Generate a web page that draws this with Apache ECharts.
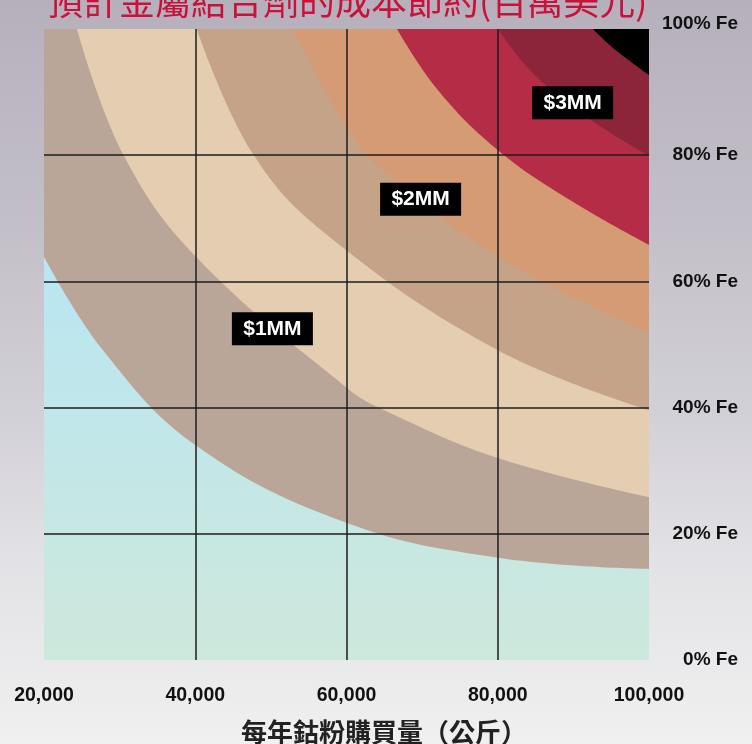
<!DOCTYPE html>
<html>
<head>
<meta charset="utf-8">
<script src="https://cdn.jsdelivr.net/npm/echarts@6/dist/echarts.min.js"></script>
<style>
  html, body { margin: 0; padding: 0; }
  #chart {
    width: 752px; height: 744px;
    background: linear-gradient(180deg, #b6b0bc 0%, #c3bfc8 30%, #d2d0d7 55%, #e2e1e5 75%, #f0f0f0 100%);
  }
</style>
</head>
<body>
<div id="chart"></div>
<script>
// Annual cobalt powder purchase (kg) on x, iron share in the bond (%) on y.
const xTickLabels = ['20,000', '40,000', '60,000', '80,000', '100,000'];
const yTickLabels = ['0% Fe', '20% Fe', '40% Fe', '60% Fe', '80% Fe', '100% Fe'];

// Savings band boundaries, each as [kg per year, % Fe], from low to high savings.
const edgeAquaTaupe = [[20000, 63.9], [27800, 49.1], [40100, 34.0], [60070, 21.7], [80030, 16.2], [100000, 14.4]];
const edgeTaupeBeige = [[24360, 100], [30450, 80.2], [40100, 63.9], [60070, 43.1], [64430, 39.9], [80030, 32.0], [100000, 25.8]];
const edgeBeigeTan = [[40200, 100], [47640, 80.2], [57820, 67.0], [80030, 49.1], [100000, 39.6]];
const edgeTanOrange = [[52920, 100], [60070, 84.3], [64430, 78.0], [80030, 63.9], [100000, 51.8]];
const edgeOrangeCrimson = [[66680, 100], [72100, 90.3], [80030, 80.8], [89550, 72.9], [100000, 65.8]];
const edgeCrimsonWine = [[80030, 100], [84660, 93.0], [92200, 85.7], [100000, 79.9]];
const edgeWineBlack = [[92590, 100], [95240, 97.0], [100000, 92.7]];

// Savings callouts and where they sit (kg, % Fe).
const calloutNames = ['$1MM', '$2MM', '$3MM'];
const calloutPoints = [[50200, 52.5], [69800, 73.0], [89900, 88.3]];

const edges = [edgeAquaTaupe, edgeTaupeBeige, edgeBeigeTan, edgeTanOrange, edgeOrangeCrimson, edgeCrimsonWine, edgeWineBlack];
const bandColors = ['#b9a698', '#e4cdb1', '#c4a388', '#d49b75', '#b42c46', '#8c2539', '#000000'];

const labelFont = 'Liberation Sans, Arial, sans-serif';

const chart = echarts.init(document.getElementById('chart'), null, { renderer: 'canvas' });

const bandSeries = edges.map((edge, i) => ({
  type: 'line',
  data: edge,
  smooth: 0.4,
  symbol: 'none',
  silent: true,
  lineStyle: { width: 0, opacity: 0 },
  areaStyle: { origin: 'end', color: bandColors[i], opacity: 1 },
  z: 2
}));

chart.setOption({
  animation: false,
  title: [
    {
      text: '預計金屬結合劑的成本節約(百萬美元)',
      left: 42,
      top: -22,
      textStyle: { color: '#c8123a', fontSize: 36, fontWeight: 'normal', fontFamily: 'Noto Sans CJK TC' }
    },
    {
      text: '每年鈷粉購買量（公斤）',
      left: 236,
      top: 714,
      textStyle: { color: '#222', fontSize: 26, fontWeight: 'bold', fontFamily: 'Noto Sans CJK TC' }
    }
  ],
  grid: {
    left: 44, right: 103, top: 29, bottom: 84,
    show: true,
    borderWidth: 0,
    backgroundColor: {
      type: 'linear', x: 0, y: 0, x2: 0, y2: 1,
      colorStops: [
        { offset: 0, color: '#b0e4f7' },
        { offset: 0.4, color: '#bae6f1' },
        { offset: 1, color: '#cde8dc' }
      ]
    }
  },
  xAxis: {
    type: 'value',
    min: 20000, max: 100000, interval: 20000,
    z: 5,
    axisLine: { show: false },
    axisTick: { show: false },
    splitLine: { show: true, showMinLine: false, showMaxLine: false, lineStyle: { color: '#1c1c1c', width: 1.5 } },
    axisLabel: {
      margin: 26,
      formatter: v => xTickLabels[Math.round((v - 20000) / 20000)],
      color: '#111', fontSize: 19.5, fontWeight: 'bold', fontFamily: labelFont
    }
  },
  yAxis: {
    type: 'value',
    position: 'right',
    min: 0, max: 100, interval: 20,
    z: 5,
    axisLine: { show: false },
    axisTick: { show: false },
    splitLine: { show: true, showMinLine: false, showMaxLine: false, lineStyle: { color: '#1c1c1c', width: 1.5 } },
    axisLabel: {
      margin: 89,
      align: 'right',
      padding: [0, 0, 0, 0],
      formatter: v => {
        const i = Math.round(v / 20);
        return i === 5 ? '{top|' + yTickLabels[i] + '}' : yTickLabels[i];
      },
      rich: {
        top: { padding: [0, 0, 10, 0], color: '#111', fontSize: 19, fontWeight: 'bold', fontFamily: labelFont }
      },
      color: '#111', fontSize: 19, fontWeight: 'bold', fontFamily: labelFont
    }
  },
  series: bandSeries.concat([{
    type: 'scatter',
    data: calloutPoints,
    symbol: 'rect',
    symbolSize: [81, 33],
    silent: true,
    z: 10,
    itemStyle: { color: '#000', opacity: 1 },
    label: {
      show: true,
      position: 'inside',
      formatter: p => calloutNames[p.dataIndex],
      color: '#fff', fontSize: 21, fontWeight: 'bold', fontFamily: labelFont
    }
  }])
});
</script>
</body>
</html>
